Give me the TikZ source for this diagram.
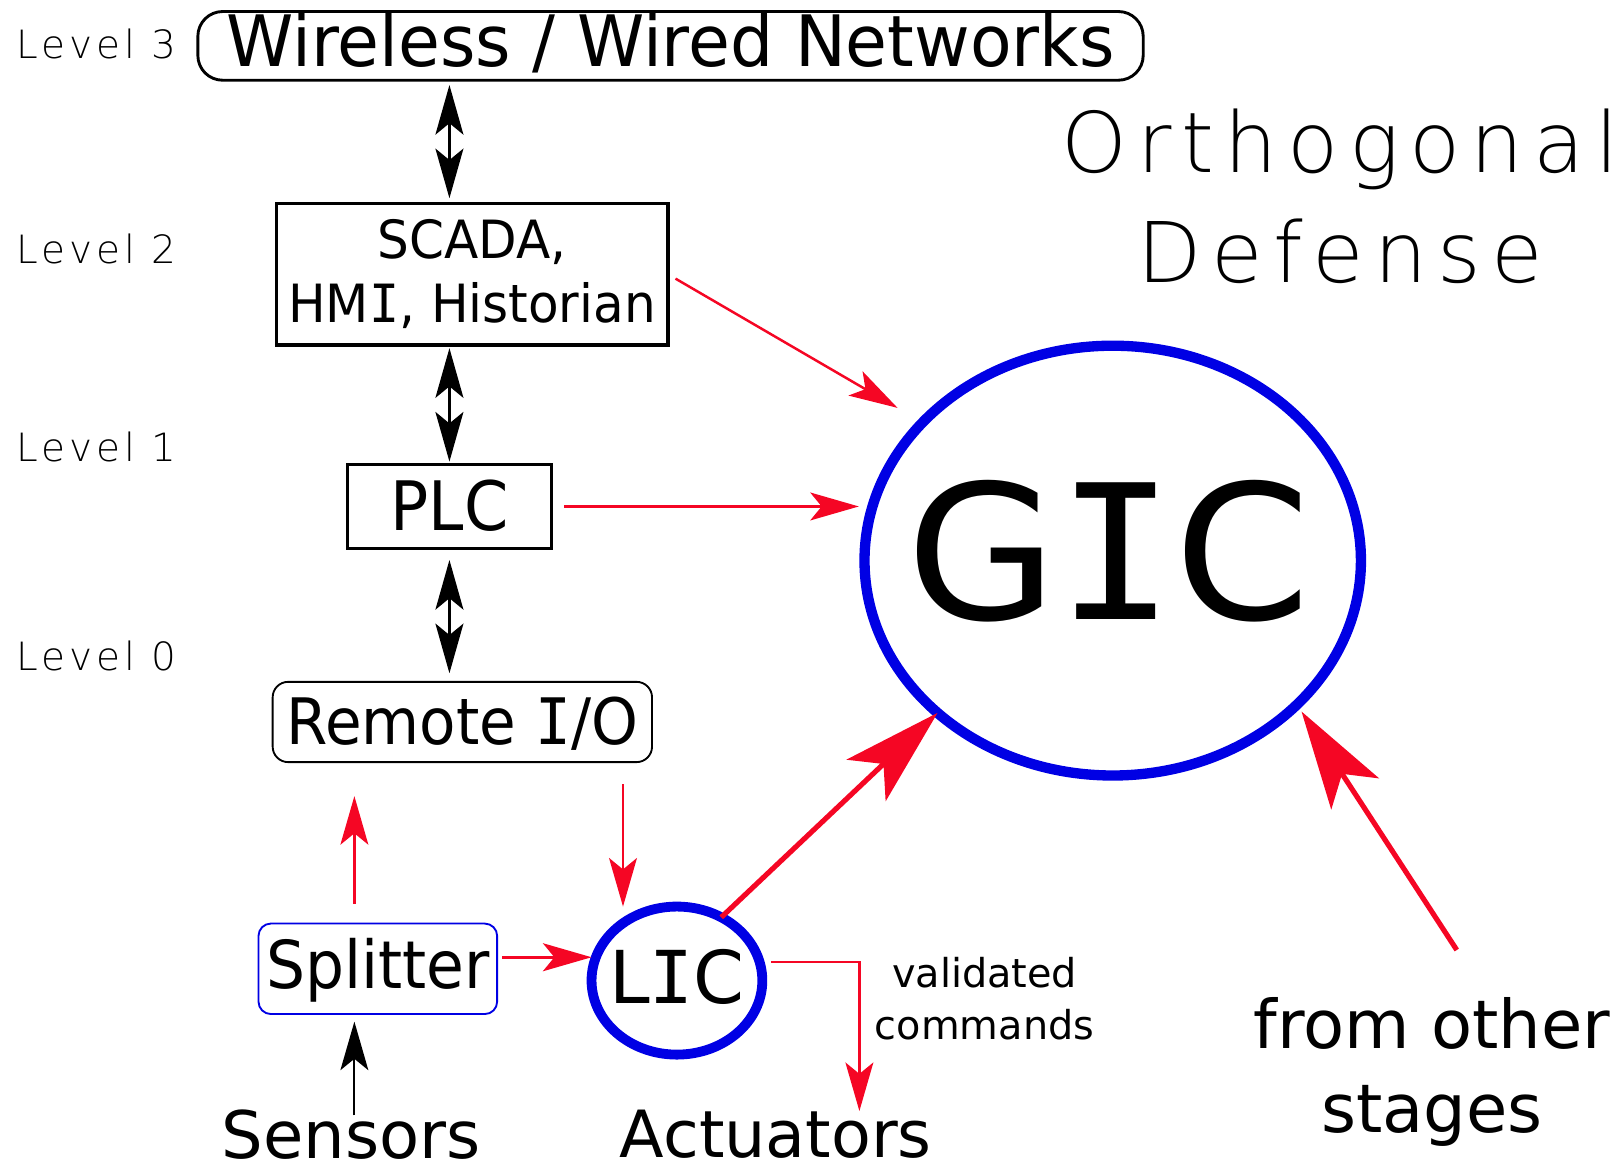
\documentclass[tikz,border=0pt]{standalone}
\usepackage{fontspec}
\setmainfont{DejaVu Sans}
\newfontfamily\monofam{DejaVu Sans Mono}
\newfontfamily\lightfam[LetterSpace=10]{DejaVu Sans ExtraLight}
\newfontfamily\titlefam[LetterSpace=12]{DejaVu Sans ExtraLight}
\usetikzlibrary{arrows.meta,shapes.geometric}

\definecolor{alarmred}{RGB}{245,6,36}
\definecolor{icblue}{RGB}{0,0,228}

% capital I with serifs, as in the drawing's type face
\newcommand{\serifI}{{\monofam I}}
\newcommand{\fsz}[2]{\fontsize{#1}{#2}\selectfont}
\newcommand{\sx}[2]{\scalebox{#1}[1]{#2}}
% zero-width text, so that it does not widen an ellipse
\newcommand{\nowidth}[1]{\makebox[0pt][c]{#1}}

\tikzset{
  box/.style={draw, inner sep=0pt, outer sep=0pt},
  ring/.style={ellipse, draw=icblue, inner sep=0pt, outer sep=0pt, text depth=0pt},
  levellab/.style={anchor=base west, inner sep=0pt, font=\lightfam\fsz{37.7}{40}},
  dblarrow/.style={line width=3pt,
    {Stealth[length=48pt,width=27pt,inset=11pt]}-{Stealth[length=48pt,width=27pt,inset=11pt]}},
  blackarrow/.style={line width=1.8pt, -{Stealth[length=47pt,width=27pt,inset=11pt]}},
  redthin/.style={alarmred, line width=2.2pt, -{Stealth[length=47pt,width=27pt,inset=11pt]}},
  redbig/.style={alarmred, line width=5pt, -{Stealth[length=95pt,width=55pt,inset=23pt]}},
}

\begin{document}
\begin{tikzpicture}[x=1pt,y=-1pt]
\useasboundingbox (0,0) rectangle (1568,1133);

% level labels
\node[levellab] (lv3) at (16,56.5) {Level 3};
\node[levellab] (lv2) at (16,254.9) {Level 2};
\node[levellab] (lv1) at (16,446.8) {Level 1};
\node[levellab] (lv0) at (16,649.1) {Level 0};

% title
\node[inner sep=0pt, align=center, font=\titlefam\fsz{81}{106.5}] (title) at (1297,189.9) {Orthogonal\\Defense};

% hierarchy boxes
\node[box, line width=2.8pt, rounded corners=24pt, minimum width=915pt, minimum height=66.5pt,
      text height=40.2pt, text depth=0pt, font=\fsz{68.6}{70}] (net) at (649,44.4)
      {\sx{0.96}{Wireless / Wired Networks}};
\node[box, line width=3.5pt, minimum width=378.8pt, minimum height=137pt, align=center,
      font=\fsz{51}{62.7}] (scada) at (456.9,265.3)
      {\sx{0.95}{SCADA,}\\\sx{0.95}{HM\serifI, Historian}};
\node[box, line width=2.8pt, minimum width=198pt, minimum height=80.8pt,
      text height=45.6pt, text depth=0pt, font=\fsz{66}{70}] (plc) at (435,490.2) {\sx{0.93}{PLC}};
\node[box, line width=1.8pt, rounded corners=15pt, minimum width=367.2pt, minimum height=77.7pt,
      text height=44.4pt, text depth=0pt, font=\fsz{62}{66}] (remote) at (447.5,698.8)
      {\sx{0.93}{Remote \serifI/O}};
\node[box, draw=icblue, line width=1.8pt, rounded corners=12pt, minimum width=231pt, minimum height=87.6pt,
      text height=37.8pt, text depth=0pt, font=\fsz{64}{66}] (splitter) at (365.7,937.7) {\sx{0.93}{Splitter}};

% integrity checkers
\node[ring, line width=9.5pt, minimum width=165.3pt, minimum height=143.3pt,
      text height=44pt, font=\fsz{70.6}{72}] (lic) at (655.2,949.1) {\nowidth{L\serifI C}};
\node[ring, line width=10pt, minimum width=480.5pt, minimum height=416pt,
      text height=114.8pt, font=\fsz{181.6}{185}] (gic) at (1077,542.6) {\nowidth{\kern-8pt\sx{1.04}{G\serifI C}}};

% plain labels
\node[anchor=base, inner sep=0pt, font=\fsz{63.5}{64}] (sensors) at (340,1121) {Sensors};
\node[anchor=base, inner sep=0pt, font=\fsz{63}{64}] (actuators) at (751,1120.5) {Actuators};
\node[inner sep=0pt, align=center, font=\fsz{38.5}{50.5}] (validated) at (953,966.5) {validated\\commands};
\node[inner sep=0pt, align=center, font=\fsz{65}{81.5}] (fromother) at (1386,1037.7) {from other\\stages};
\coordinate (otherstages) at (1410,919.5);

% vertical communication between levels
\draw[dblarrow, shorten <=4.6pt, shorten >=4.9pt] (net.south -| plc.north) -- (scada.north -| plc.north);
\draw[dblarrow, shorten <=3.2pt, shorten >=3pt] (scada.south -| plc.north) -- (plc.north);
\draw[dblarrow, shorten <=11.4pt, shorten >=8.3pt] (plc.south) -- (remote.north -| plc.south);

% field level
\draw[blackarrow, shorten >=7.3pt] ([xshift=3pt,yshift=-6pt]sensors.north) -- ([xshift=3pt]sensors.north |- splitter.south);
\draw[redthin, shorten <=19pt, shorten >=32.9pt] ([xshift=-22.7pt]splitter.north) -- ([xshift=-22.7pt]splitter.north |- remote.south);
\draw[redthin, shorten <=21.4pt] ([xshift=155.5pt]remote.south) -- ([xshift=155.5pt]remote.south |- lic.north);
\draw[redthin, line width=3pt, shorten <=4.8pt] ([yshift=11.2pt]splitter.east) -- ([yshift=11.2pt]splitter.east -| lic.west);
\draw[redthin] ([xshift=8.7pt,yshift=18.2pt]lic.east) -| ([xshift=80.8pt,yshift=-1pt]actuators.north);

% reports to the global checker
\draw[redthin, line width=2.4pt, shorten <=8.7pt, shorten >=28pt] (scada.east) -- (gic.144);
\draw[redthin, shorten <=12pt, shorten >=5.5pt] (plc.east) -- (plc.east -| gic.west);
\draw[redbig] (lic.55) -- (gic.221);
\draw[redbig, shorten >=8pt] (otherstages) -- (gic.-38);
\end{tikzpicture}
\end{document}
